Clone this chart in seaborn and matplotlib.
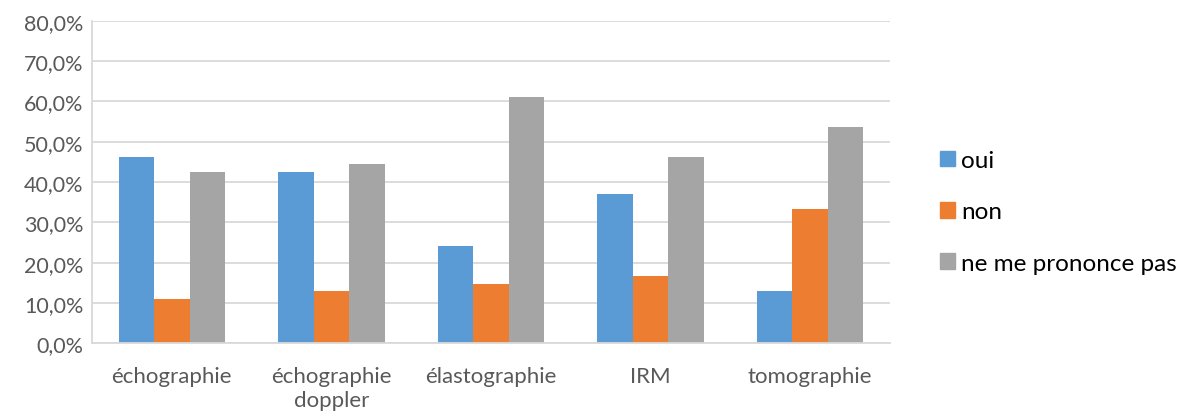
import matplotlib
matplotlib.use("Agg")
import matplotlib.pyplot as plt
import matplotlib.patches as mpatches
from matplotlib.ticker import FuncFormatter, MultipleLocator
import seaborn as sns
import pandas as pd

categories = ["échographie", "échographie\ndoppler", "élastographie", "IRM", "tomographie"]
series_names = ["oui", "non", "ne me prononce pas"]
oui = [46.3, 42.6, 24.1, 37.1, 13.0]
non = [11.0, 12.9, 14.6, 16.6, 33.2]
nsp = [42.6, 44.4, 61.1, 46.3, 53.7]
colors = ["#5B9BD5", "#ED7D31", "#A5A5A5"]

rows = []
for name, vals in zip(series_names, [oui, non, nsp]):
    for cat, v in zip(categories, vals):
        rows.append({"cat": cat, "serie": name, "val": v})
df = pd.DataFrame(rows)

sns.set_style("white")
plt.rcParams["font.family"] = ["Lato", "DejaVu Sans"]

fig = plt.figure(figsize=(11.97, 4.14), dpi=100)
ax = fig.add_axes([92 / 1197, 1 - 344.3 / 414, (890 - 92) / 1197, (344.3 - 21.7) / 414])

sns.barplot(data=df, x="cat", y="val", hue="serie", order=categories,
            hue_order=series_names, palette=colors, width=0.667, gap=0,
            saturation=1, ax=ax, legend=False, linewidth=0)

ax.set_ylim(0, 80)
ax.set_xlim(-0.5, len(categories) - 0.5)
ax.yaxis.set_major_locator(MultipleLocator(10))
ax.yaxis.set_major_formatter(FuncFormatter(lambda v, p: f"{v:.1f}%".replace(".", ",")))
ax.grid(axis="y", color="#D9D9D9", linewidth=1.3)
ax.set_axisbelow(True)
for s in ["top", "right"]:
    ax.spines[s].set_visible(False)
for s in ["left", "bottom"]:
    ax.spines[s].set_color("#D9D9D9")
    ax.spines[s].set_linewidth(1.3)
ax.set_xlabel("")
ax.set_ylabel("")
ax.tick_params(axis="both", length=0, labelcolor="#595959")
ax.tick_params(axis="x", pad=16, labelsize=16)
ax.tick_params(axis="y", pad=6, labelsize=15.5)
for lbl in ax.get_xticklabels():
    lbl.set_linespacing(1.25)

handles = [mpatches.Patch(color=c, label=n) for c, n in zip(colors, series_names)]
fig.legend(handles=handles, loc="center left", bbox_to_anchor=(940 / 1197, 1 - 213 / 414),
           frameon=False, fontsize=17.5, handlelength=0.62, handleheight=0.62,
           handletextpad=0.25, labelspacing=1.25, borderpad=0, borderaxespad=0,
           labelcolor="black")

fig.savefig("out.png", dpi=100)
